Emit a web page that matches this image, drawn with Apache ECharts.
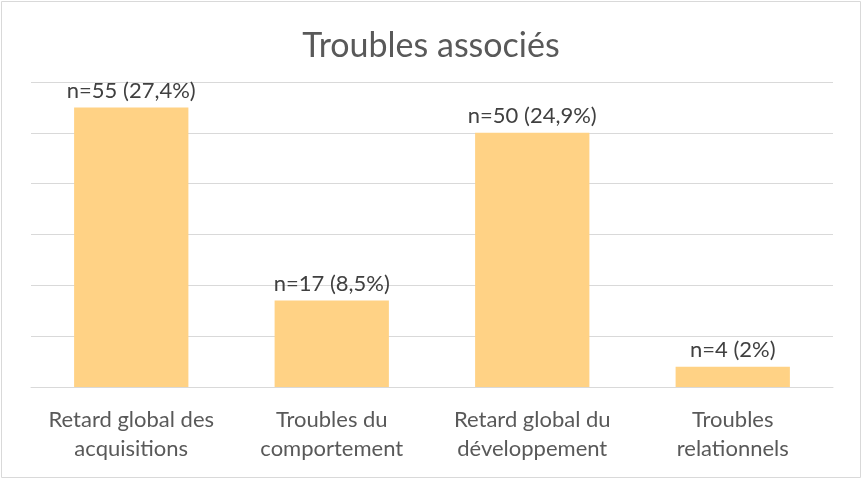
<!DOCTYPE html>
<html>
<head>
<meta charset="utf-8">
<script src="https://cdn.jsdelivr.net/npm/echarts@6/dist/echarts.min.js"></script>
<style>
html,body{margin:0;padding:0;background:#fff;}
#chart{width:862px;height:481px;}
</style>
</head>
<body>
<div id="chart"></div>
<script>
var categories = ['Retard global des\nacquisitions', 'Troubles du\ncomportement', 'Retard global du\ndéveloppement', 'Troubles\nrelationnels'];
var counts = [55, 17, 50, 4];
var labels = ['n=55 (27,4%)', 'n=17 (8,5%)', 'n=50 (24,9%)', 'n=4 (2%)'];

var myChart = echarts.init(document.getElementById('chart'));
var option = {
	animation: false,
	textStyle: { fontFamily: 'Lato' },
	title: {
		text: 'Troubles associés',
		left: 'center',
		top: 24,
		textStyle: { fontFamily: 'Lato', fontSize: 34, fontWeight: 'normal', color: '#595959' }
	},
	graphic: [{
		type: 'rect',
		shape: { x: 1.5, y: 1.5, width: 859, height: 476 },
		style: { fill: 'none', stroke: '#d9d9d9', lineWidth: 1 },
		silent: true
	}],
	grid: { left: 31, right: 29, top: 82, bottom: 94 },
	xAxis: {
		type: 'category',
		data: categories,
		axisLine: { lineStyle: { color: '#d9d9d9' } },
		axisTick: { show: false },
		axisLabel: { color: '#595959', fontSize: 22, lineHeight: 29, margin: 18, interval: 0 }
	},
	yAxis: {
		type: 'value',
		min: 0,
		max: 60,
		interval: 10,
		axisLabel: { show: false },
		axisLine: { show: false },
		axisTick: { show: false },
		splitLine: { lineStyle: { color: '#d9d9d9' } }
	},
	series: [{
		type: 'bar',
		data: counts,
		barWidth: '57%',
		itemStyle: { color: '#FFD285' },
		label: {
			show: true,
			position: 'top',
			distance: 6,
			color: '#404040',
			fontSize: 22,
			formatter: function (p) { return labels[p.dataIndex]; }
		}
	}]
};
myChart.setOption(option);
</script>
</body>
</html>
